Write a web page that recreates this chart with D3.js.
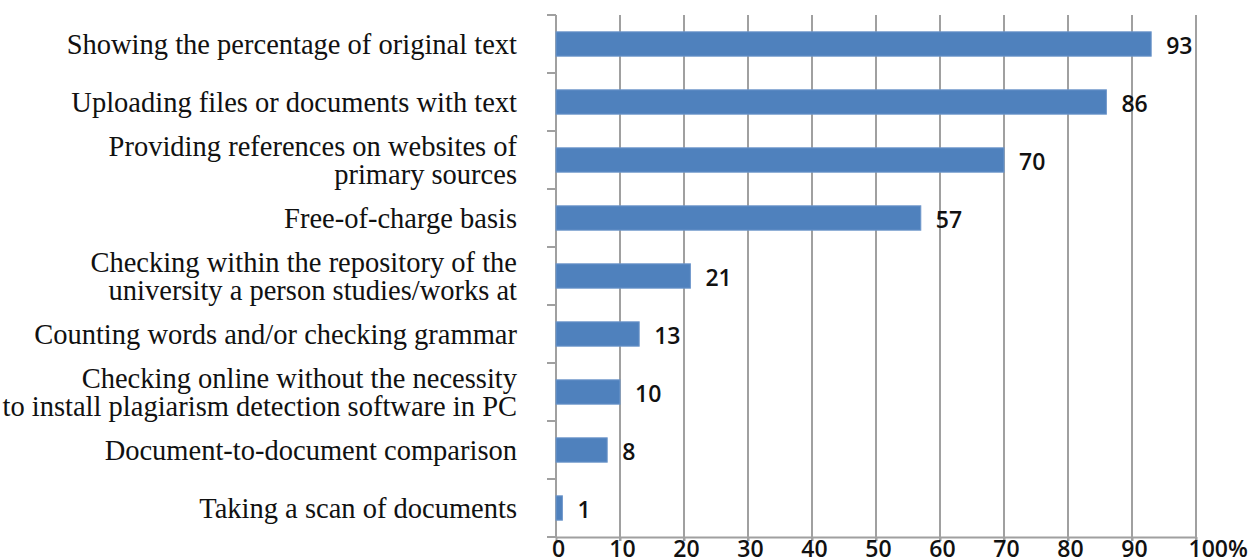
<!DOCTYPE html>
<html>
<head>
<meta charset="utf-8">
<script src="https://cdn.jsdelivr.net/npm/d3@7"></script>
<style>
  body { margin: 0; background: #fff; }
</style>
</head>
<body>
<div id="chart"></div>
<script>
// categories, top to bottom (each entry = lines of the label)
var categories = [
  ["Showing the percentage of original text"],
  ["Uploading files or documents with text"],
  ["Providing references on websites of", "primary sources"],
  ["Free-of-charge basis"],
  ["Checking within the repository of the", "university a person studies/works at"],
  ["Counting words and/or checking grammar"],
  ["Checking online without the necessity", "to install plagiarism detection software in PC"],
  ["Document-to-document comparison"],
  ["Taking a scan of documents"]
];
var values = [93, 86, 70, 57, 21, 13, 10, 8, 1];
var xTicks = [0, 10, 20, 30, 40, 50, 60, 70, 80, 90, 100];

var W = 1251, H = 560;
var margin = {top: 15, right: 55, bottom: 23, left: 556};
var width = W - margin.left - margin.right,
    height = H - margin.top - margin.bottom;

var svg = d3.select("#chart")
  .append("svg")
    .attr("width", W)
    .attr("height", H)
  .append("g")
    .attr("transform", "translate(" + margin.left + "," + margin.top + ")");

var x = d3.scaleLinear()
    .domain([0, 100])
    .range([0, 640]);

var y = d3.scaleBand()
    .domain(d3.range(categories.length))
    .range([0, height])
    .padding(0);

var barH = y.bandwidth() * 0.42;

// vertical gridlines
svg.append("g")
  .selectAll("line")
  .data(xTicks.slice(1))
  .enter().append("line")
    .attr("x1", function(d) { return x(d); })
    .attr("x2", function(d) { return x(d); })
    .attr("y1", 0)
    .attr("y2", height + 4)
    .attr("stroke", "#a0a0a0")
    .attr("stroke-width", 2);

// bottom axis
var xAxis = svg.append("g")
    .attr("transform", "translate(0," + height + ")")
    .call(d3.axisBottom(x).tickValues(xTicks).tickSize(4).tickSizeOuter(0)
      .tickFormat(function(d) { return d == 100 ? "100%" : d; }));
xAxis.select(".domain").attr("stroke", "#a0a0a0").attr("stroke-width", 2);
xAxis.selectAll(".tick line").attr("stroke", "#a0a0a0").attr("stroke-width", 2);
xAxis.selectAll(".tick text")
    .attr("font-family", "'Open Sans', sans-serif")
    .attr("font-size", 23)
    .attr("font-weight", 600)
    .attr("fill", "#111")
    .attr("y", 4)
    .attr("dy", 16)
    .attr("dx", 2);
xAxis.selectAll(".tick").filter(function(d) { return d == 100; }).select("text")
    .attr("text-anchor", "start")
    .attr("dx", -8);

// left axis with ticks at band boundaries
var bounds = d3.range(categories.length + 1).map(function(i) { return i * y.step(); });
svg.append("line")
    .attr("x1", 0).attr("x2", 0)
    .attr("y1", 0).attr("y2", height)
    .attr("stroke", "#a0a0a0")
    .attr("stroke-width", 2);
svg.append("g")
  .selectAll("line")
  .data(bounds)
  .enter().append("line")
    .attr("x1", -9).attr("x2", 0)
    .attr("y1", function(d) { return d; })
    .attr("y2", function(d) { return d; })
    .attr("stroke", "#a0a0a0")
    .attr("stroke-width", 2);

// bars
svg.append("g")
  .selectAll("rect")
  .data(values)
  .enter().append("rect")
    .attr("x", x(0))
    .attr("y", function(d, i) { return y(i) + (y.bandwidth() - barH) / 2; })
    .attr("width", function(d) { return x(d) - x(0); })
    .attr("height", barH)
    .attr("fill", "#4f81bd")
    .attr("stroke", "#6f97cb")
    .attr("stroke-width", 1);

// value labels
svg.append("g")
  .selectAll("text")
  .data(values)
  .enter().append("text")
    .attr("x", function(d) { return x(d) + 15; })
    .attr("y", function(d, i) { return y(i) + y.bandwidth() / 2 + 2; })
    .attr("dy", "0.35em")
    .attr("font-family", "'Open Sans', sans-serif")
    .attr("font-size", 23)
    .attr("font-weight", 600)
    .attr("fill", "#111")
    .text(function(d) { return d; });

// category labels
var lineH = 28;
var labels = svg.append("g")
  .selectAll("text")
  .data(categories)
  .enter().append("text")
    .attr("text-anchor", "end")
    .attr("font-family", "'Liberation Serif', 'Times New Roman', serif")
    .attr("font-size", 28.5)
    .attr("fill", "#111")
    .attr("transform", function(d, i) {
      return "translate(-39," + (y(i) + y.bandwidth() / 2) + ")";
    });
labels.selectAll("tspan")
  .data(function(d) { return d.map(function(t, j) { return {t: t, j: j, n: d.length}; }); })
  .enter().append("tspan")
    .attr("x", 0)
    .attr("y", function(d) { return (d.j - (d.n - 1) / 2) * lineH; })
    .attr("dy", "0.35em")
    .text(function(d) { return d.t; });
</script>
</body>
</html>
